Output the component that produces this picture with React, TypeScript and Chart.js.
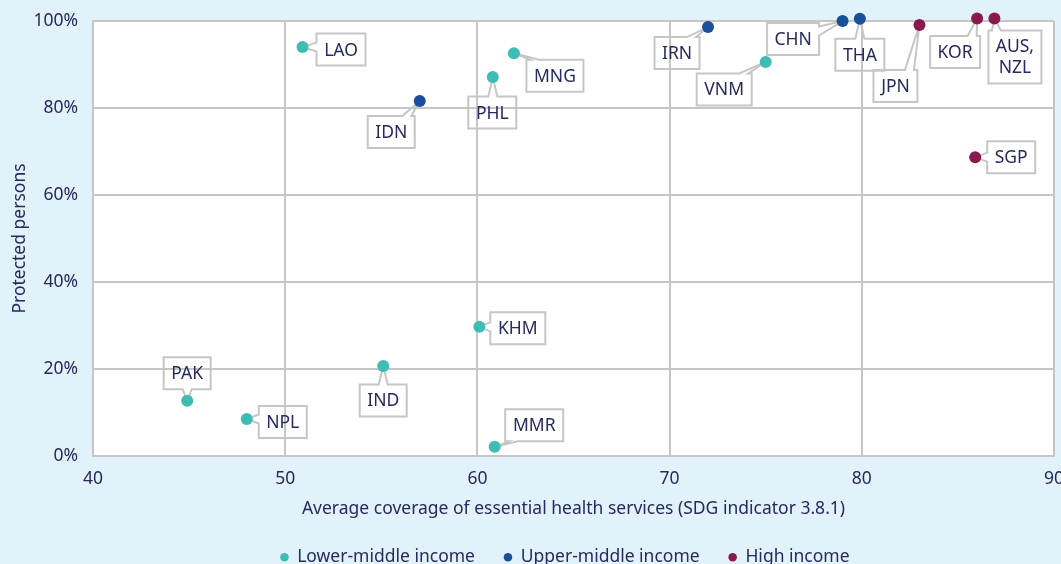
import React, { useEffect, useRef } from "react";
import { Chart, registerables } from "chart.js";

Chart.register(...registerables);

// ---- data ----
const lowerCodes = ["LAO", "MNG", "PHL", "VNM", "KHM", "IND", "PAK", "NPL", "MMR"];
const lowerX = [50.9, 61.9, 60.8, 75.0, 60.1, 55.1, 44.9, 48.0, 60.9];
const lowerY = [94.0, 92.6, 87.1, 90.6, 29.7, 20.7, 12.7, 8.5, 2.1];

const upperCodes = ["IDN", "IRN", "CHN", "THA"];
const upperX = [57.0, 72.0, 79.0, 79.9];
const upperY = [81.6, 98.6, 100.0, 100.5];

const highCodes = ["JPN", "KOR", "AUS,\nNZL", "SGP"];
const highX = [83.0, 86.0, 86.9, 85.9];
const highY = [99.1, 100.6, 100.6, 68.7];

const seriesNames = ["Lower-middle income", "Upper-middle income", "High income"];
const xTicks = [40, 50, 60, 70, 80, 90];
const yTicks = [0, 20, 40, 60, 80, 100];
const xTitle = "Average coverage of essential health services (SDG indicator 3.8.1)";
const yTitle = "Protected persons";

// ---- styling ----
const COLORS = ["#3dbdb4", "#1a4f9c", "#8a1a4c"];
const TEXT = "#262a5c";
const GRID = "#c6c6c6";
const FONT = '"Noto Sans", sans-serif';
const FS = 17.5;

// callout placement (box centre offset from point, side carrying the pointer)
const CALLOUTS: Record<string, { dx: number; dy: number; side: "top" | "right" | "bottom" | "left" }> = {
  LAO: { dx: 38.5, dy: 2.5, side: "left" },
  MNG: { dx: 41, dy: 22.5, side: "top" },
  PHL: { dx: -0.5, dy: 35.5, side: "top" },
  VNM: { dx: -41.5, dy: 27.5, side: "top" },
  KHM: { dx: 38.5, dy: 1.5, side: "left" },
  IND: { dx: 0, dy: 34.5, side: "top" },
  PAK: { dx: 0, dy: -27.5, side: "bottom" },
  NPL: { dx: 36, dy: 3, side: "left" },
  MMR: { dx: 39.5, dy: -21.5, side: "bottom" },
  IDN: { dx: -28.5, dy: 31, side: "top" },
  IRN: { dx: -31, dy: 26, side: "top" },
  CHN: { dx: -49.5, dy: 18, side: "right" },
  THA: { dx: 0, dy: 36, side: "top" },
  JPN: { dx: -24, dy: 61, side: "top" },
  KOR: { dx: -22, dy: 33.5, side: "top" },
  "AUS,\nNZL": { dx: 20.5, dy: 38.5, side: "top" },
  SGP: { dx: 36, dy: 0, side: "left" },
};

const callouts = {
  id: "callouts",
  beforeDatasetsDraw(chart: any) {
    const ctx = chart.ctx as CanvasRenderingContext2D;
    ctx.save();
    ctx.font = `${FS}px ${FONT}`;
    ctx.textAlign = "center";
    ctx.textBaseline = "middle";
    const PADX = 7.5, PADY = 5.5, LH = 21, HALF = 4.5;
    chart.data.datasets.forEach((ds: any, di: number) => {
      const meta = chart.getDatasetMeta(di);
      meta.data.forEach((el: any, i: number) => {
        const code: string = ds.codes[i];
        const cfg = CALLOUTS[code];
        if (!cfg) return;
        const lines = code.split("\n");
        const tw = Math.max(...lines.map((l) => ctx.measureText(l).width));
        const w = Math.round(tw + 2 * PADX);
        const h = lines.length * LH + 2 * PADY;
        const cx = el.x + cfg.dx, cy = el.y + cfg.dy;
        const x0 = cx - w / 2, x1 = cx + w / 2, y0 = cy - h / 2, y1 = cy + h / 2;
        const corners = [[x0, y0], [x1, y0], [x1, y1], [x0, y1]];
        const clamp = (v: number, a: number, b: number) => Math.max(a, Math.min(b, v));
        let p1: number[], p2: number[], s: number;
        if (cfg.side === "top") {
          const bc = clamp(el.x, x0 + 8, x1 - 8);
          p1 = [bc - HALF, y0]; p2 = [bc + HALF, y0]; s = 0;
        } else if (cfg.side === "right") {
          const bc = clamp(el.y, y0 + 8, y1 - 8);
          p1 = [x1, bc - HALF]; p2 = [x1, bc + HALF]; s = 1;
        } else if (cfg.side === "bottom") {
          const bc = clamp(el.x, x0 + 8, x1 - 8);
          p1 = [bc + HALF, y1]; p2 = [bc - HALF, y1]; s = 2;
        } else {
          const bc = clamp(el.y, y0 + 8, y1 - 8);
          p1 = [x0, bc + HALF]; p2 = [x0, bc - HALF]; s = 3;
        }
        ctx.beginPath();
        ctx.moveTo(p2[0], p2[1]);
        for (let k = 1; k <= 4; k++) {
          const c = corners[(s + k) % 4];
          ctx.lineTo(c[0], c[1]);
        }
        ctx.lineTo(p1[0], p1[1]);
        ctx.lineTo(el.x, el.y);
        ctx.closePath();
        ctx.lineWidth = 2;
        ctx.strokeStyle = GRID;
        ctx.lineJoin = "miter";
        ctx.stroke();
        ctx.fillStyle = TEXT;
        lines.forEach((l, li) => {
          ctx.fillText(l, cx, y0 + PADY + LH * li + LH / 2 + 1);
        });
      });
    });
    ctx.restore();
  },
};

const background = {
  id: "bg",
  beforeDraw(chart: any) {
    const { ctx, chartArea } = chart;
    ctx.save();
    ctx.fillStyle = "#e1f2fa";
    ctx.fillRect(0, 0, chart.width, chart.height);
    ctx.fillStyle = "#ffffff";
    ctx.fillRect(chartArea.left, chartArea.top, chartArea.right - chartArea.left, chartArea.bottom - chartArea.top);
    ctx.restore();
  },
};

const legendShift = {
  id: "legendShift",
  afterLayout(chart: any) {
    const lg = chart.legend;
    if (!lg) return;
    lg.left += 38;
    lg.right += 38;
    lg.top += 0;
    lg.bottom += 0;
  },
};

function mk(xs: number[], ys: number[]) {
  return xs.map((x, i) => ({ x, y: ys[i] }));
}

const noPad = (s: any) => {
  s.paddingLeft = 0;
  s.paddingRight = 0;
  s.paddingTop = 0;
  s.paddingBottom = 0;
};

export default function App() {
  const ref = useRef<HTMLCanvasElement>(null);
  useEffect(() => {
    if (!ref.current) return;
    const groups = [
      { codes: lowerCodes, data: mk(lowerX, lowerY) },
      { codes: upperCodes, data: mk(upperX, upperY) },
      { codes: highCodes, data: mk(highX, highY) },
    ];
    const chart = new Chart(ref.current, {
      type: "scatter",
      data: {
        datasets: groups.map((g, i) => ({
          label: seriesNames[i],
          data: g.data,
          codes: g.codes,
          backgroundColor: COLORS[i],
          borderColor: COLORS[i],
          borderWidth: 0,
          pointRadius: 6,
          pointHoverRadius: 6,
          clip: false,
        })) as any,
      },
      options: {
        responsive: false,
        animation: false,
        layout: { padding: { top: 21, right: 7, bottom: -12, left: 0 } },
        scales: {
          x: {
            type: "linear",
            min: 40,
            max: 90,
            afterBuildTicks: (s: any) => { s.ticks = xTicks.map((v) => ({ value: v })); },
            afterFit: (s: any) => { s.height = 63.5; noPad(s); },
            grid: { color: GRID, lineWidth: 2, drawTicks: false },
            border: { color: GRID, width: 2 },
            ticks: { color: TEXT, font: { family: FONT, size: FS }, padding: 12.5, maxRotation: 0 },
            title: { display: true, text: xTitle, color: TEXT, font: { family: FONT, size: FS }, padding: { top: 0, bottom: 0 } },
          },
          y: {
            type: "linear",
            min: 0,
            max: 100,
            afterBuildTicks: (s: any) => { s.ticks = yTicks.map((v) => ({ value: v })); },
            afterFit: (s: any) => { s.width = 93; noPad(s); },
            grid: { color: GRID, lineWidth: 2, drawTicks: false },
            border: { color: GRID, width: 2 },
            ticks: { color: TEXT, font: { family: FONT, size: FS }, padding: 15, callback: (v: any) => v + "%" },
            title: { display: true, text: yTitle, color: TEXT, font: { family: FONT, size: FS }, padding: { top: 9.5, bottom: 0 } },
          },
        },
        plugins: {
          legend: {
            position: "bottom",
            labels: {
              usePointStyle: true,
              pointStyle: "circle",
              boxWidth: 8,
              boxHeight: 6,
              padding: 29,
              color: TEXT,
              font: { family: FONT, size: FS },
            },
          },
          tooltip: { enabled: false },
        },
      },
      plugins: [background, callouts, legendShift],
    });
    return () => chart.destroy();
  }, []);
  return (
    <div style={{ position: "fixed", left: 0, top: 0, width: 1061, height: 564, background: "#e1f2fa" }}>
      <canvas ref={ref} width={1061} height={564} />
    </div>
  );
}
